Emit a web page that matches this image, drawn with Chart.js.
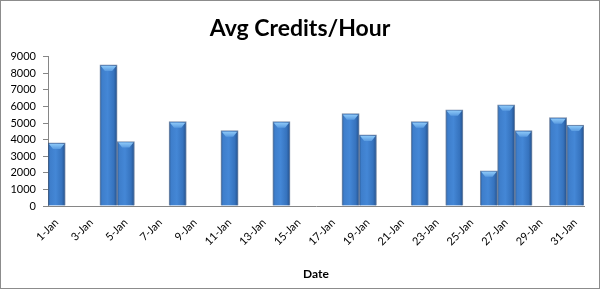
<!DOCTYPE html>
<html>
<head>
<meta charset="utf-8">
<style>
  html, body { margin: 0; padding: 0; background: #fff; }
  canvas { display: block; }
</style>
</head>
<body>
<canvas id="creditsChart" width="600" height="289"></canvas>
<script src="https://cdn.jsdelivr.net/npm/chart.js"></script>
<script>
    // one category per day of January
    const dates = ['1-Jan','2-Jan','3-Jan','4-Jan','5-Jan','6-Jan','7-Jan','8-Jan','9-Jan','10-Jan',
        '11-Jan','12-Jan','13-Jan','14-Jan','15-Jan','16-Jan','17-Jan','18-Jan','19-Jan','20-Jan',
        '21-Jan','22-Jan','23-Jan','24-Jan','25-Jan','26-Jan','27-Jan','28-Jan','29-Jan','30-Jan','31-Jan'];
    const avgCredits = [3800, null, null, 8500, 3880, null, null, 5080, null, null,
        4540, null, null, 5080, null, null, null, 5560, 4280, null,
        null, 5080, null, 5800, null, 2120, 6100, 4540, null, 5320, 4880];
    const yTicks = [0, 1000, 2000, 3000, 4000, 5000, 6000, 7000, 8000, 9000];

    const FONT = "Lato, 'Liberation Sans', sans-serif";

    // horizontal shading for each bar, positioned from the x scale
    function barGradient(context) {
        const chart = context.chart;
        const xs = chart.scales.x;
        if (!xs || !chart.chartArea) return '#3b78c4';
        const cx = xs.getPixelForValue(context.dataIndex);
        const w = Math.abs(xs.getPixelForValue(1) - xs.getPixelForValue(0));
        const g = chart.ctx.createLinearGradient(cx - w / 2, 0, cx + w / 2, 0);
        g.addColorStop(0, '#2b5a94');
        g.addColorStop(0.12, '#3e7ecb');
        g.addColorStop(0.45, '#4487d6');
        g.addColorStop(0.8, '#3673be');
        g.addColorStop(1, '#24508a');
        return g;
    }

    // light bevel on top of every bar, plus outer border of the chart
    const bevelPlugin = {
        id: 'bevel',
        afterDatasetsDraw(chart) {
            const ctx = chart.ctx;
            chart.getDatasetMeta(0).data.forEach((bar, i) => {
                if (avgCredits[i] == null) return;
                const { x, y, width } = bar.getProps(['x', 'y', 'width'], true);
                const l = x - width / 2 + 1, r = x + width / 2 - 1;
                const g = ctx.createLinearGradient(0, y + 1, 0, y + 6);
                g.addColorStop(0, '#8cc8f8');
                g.addColorStop(1, '#5a9be0');
                ctx.save();
                ctx.beginPath();
                ctx.moveTo(l, y + 1);
                ctx.lineTo(r, y + 1);
                ctx.lineTo(r - 4, y + 6);
                ctx.lineTo(l + 4, y + 6);
                ctx.closePath();
                ctx.fillStyle = g;
                ctx.fill();
                ctx.restore();
            });
        },
        afterDraw(chart) {
            const ctx = chart.ctx;
            ctx.save();
            ctx.strokeStyle = '#8c8c8c';
            ctx.lineWidth = 1;
            ctx.strokeRect(0.5, 0.5, chart.width - 1, chart.height - 1);
            ctx.restore();
        }
    };

    const ctx = document.getElementById('creditsChart').getContext('2d');
    const creditsChart = new Chart(ctx, {
        type: 'bar',
        data: {
            labels: dates,
            datasets: [{
                label: 'Avg Credits/Hour',
                data: avgCredits,
                backgroundColor: barGradient,
                borderColor: 'rgba(35, 65, 110, 0.6)',
                borderWidth: 1,
                borderSkipped: 'start',
                categoryPercentage: 1.0,
                barPercentage: 1.0
            }]
        },
        options: {
            responsive: false,
            animation: false,
            layout: { padding: { left: 0, right: 0, top: 0, bottom: 8 } },
            plugins: {
                legend: { display: false },
                tooltip: { enabled: false },
                title: {
                    display: true,
                    text: 'Avg Credits/Hour',
                    color: '#000',
                    font: { family: FONT, size: 23, weight: 'bold' },
                    padding: { top: 15, bottom: 14 }
                }
            },
            scales: {
                x: {
                    grid: { display: false },
                    border: { display: true, color: '#868686' },
                    ticks: {
                        autoSkip: false,
                        maxRotation: 45,
                        minRotation: 45,
                        color: '#000',
                        padding: 2,
                        font: { family: FONT, size: 11 },
                        callback: (v, i) => (i % 2 === 0 ? dates[i] : '')
                    },
                    title: {
                        display: true,
                        text: 'Date',
                        color: '#000',
                        font: { family: FONT, size: 12, weight: 'bold' },
                        padding: { top: 6, bottom: 0 }
                    },
                    afterFit(scale) { scale.height = 75; }
                },
                y: {
                    min: 0,
                    max: 9000,
                    afterBuildTicks(scale) { scale.ticks = yTicks.map(v => ({ value: v })); },
                    grid: { drawOnChartArea: false, tickLength: 5, color: '#868686' },
                    border: { display: true, color: '#868686' },
                    ticks: {
                        color: '#000',
                        padding: 7,
                        font: { family: FONT, size: 11 },
                        callback: v => String(v)
                    },
                    afterFit(scale) { scale.width = 48; }
                },
                // empty right-hand strip so the plot ends where the reference does
                yRight: {
                    position: 'right',
                    min: 0,
                    max: 9000,
                    grid: { display: false },
                    border: { display: false },
                    ticks: { display: false },
                    afterFit(scale) { scale.width = 16; }
                }
            }
        },
        plugins: [bevelPlugin]
    });
</script>
</body>
</html>
